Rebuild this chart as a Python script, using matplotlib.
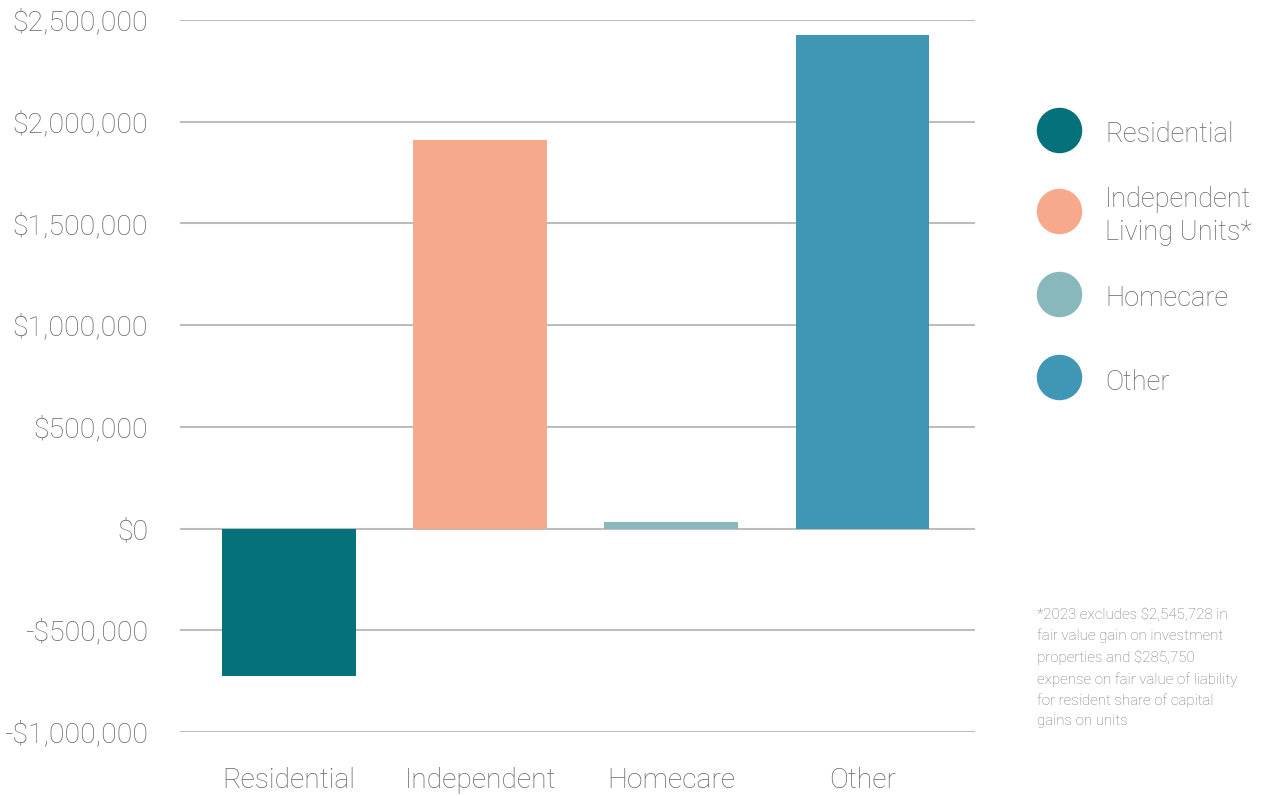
import matplotlib
matplotlib.use("Agg")
import matplotlib.pyplot as plt
from matplotlib.ticker import FuncFormatter

# data
categorias = ["Residential", "Independent", "Homecare", "Other"]
valores = [-725000, 1910000, 33000, 2424000]
colores = ["#05717a", "#f7a98b", "#88b8bb", "#4096b5"]
leyenda = ["Residential", "Independent\nLiving Units*", "Homecare", "Other"]
nota = ("*2023 excludes $2,545,728 in\nfair value gain on investment\n"
        "properties and $285,750\nexpense on fair value of liability\n"
        "for resident share of capital\ngains on units")

plt.rcParams['font.family'] = ['Roboto', 'DejaVu Sans']
gris = "#666666"

fig = plt.figure(figsize=(12.69, 7.96), dpi=100)
ax = fig.add_axes([180 / 1269, 1 - 732 / 796, 795 / 1269, 712 / 796])

x = range(len(categorias))
ax.bar(x, valores, width=0.70, color=colores, zorder=3)

ax.set_ylim(-1000000, 2500000)
ax.set_xlim(-0.57, 3.588)
ax.set_yticks(range(-1000000, 2500001, 500000))
ax.yaxis.set_major_formatter(FuncFormatter(
    lambda v, p: ("-$" if v < 0 else "$") + f"{abs(int(v)):,}"))
ax.set_xticks(list(x))
ax.set_xticklabels(categorias)

ax.grid(axis="y", color="#bdbdbd", linewidth=1.5, zorder=0)
for s in ax.spines.values():
    s.set_visible(False)
ax.tick_params(axis="both", length=0, labelcolor=gris)
ax.tick_params(axis="y", pad=23, labelsize=20.5)
ax.tick_params(axis="x", pad=25, labelsize=20.3)
for lab in ax.get_xticklabels() + ax.get_yticklabels():
    lab.set_fontweight("light")

# leyenda a mano
ley = fig.add_axes([0, 0, 1, 1])
ley.set_xlim(0, 1269)
ley.set_ylim(796, 0)
ley.axis("off")
ys = [130, 211, 294, 377]
for y, c, t in zip(ys, colores, leyenda):
    ley.scatter([1059], [y], s=44 ** 2 * 0.52, color=c)
    ley.text(1105, y + 5, t, fontsize=19.6, color=gris, va="center", ha="left",
             fontweight="light", linespacing=1.3)

ley.text(1037, 608, nota, fontsize=10.9, color="#777777", va="top", ha="left",
         fontweight="light", linespacing=1.57)

fig.savefig("out.png", dpi=100)
